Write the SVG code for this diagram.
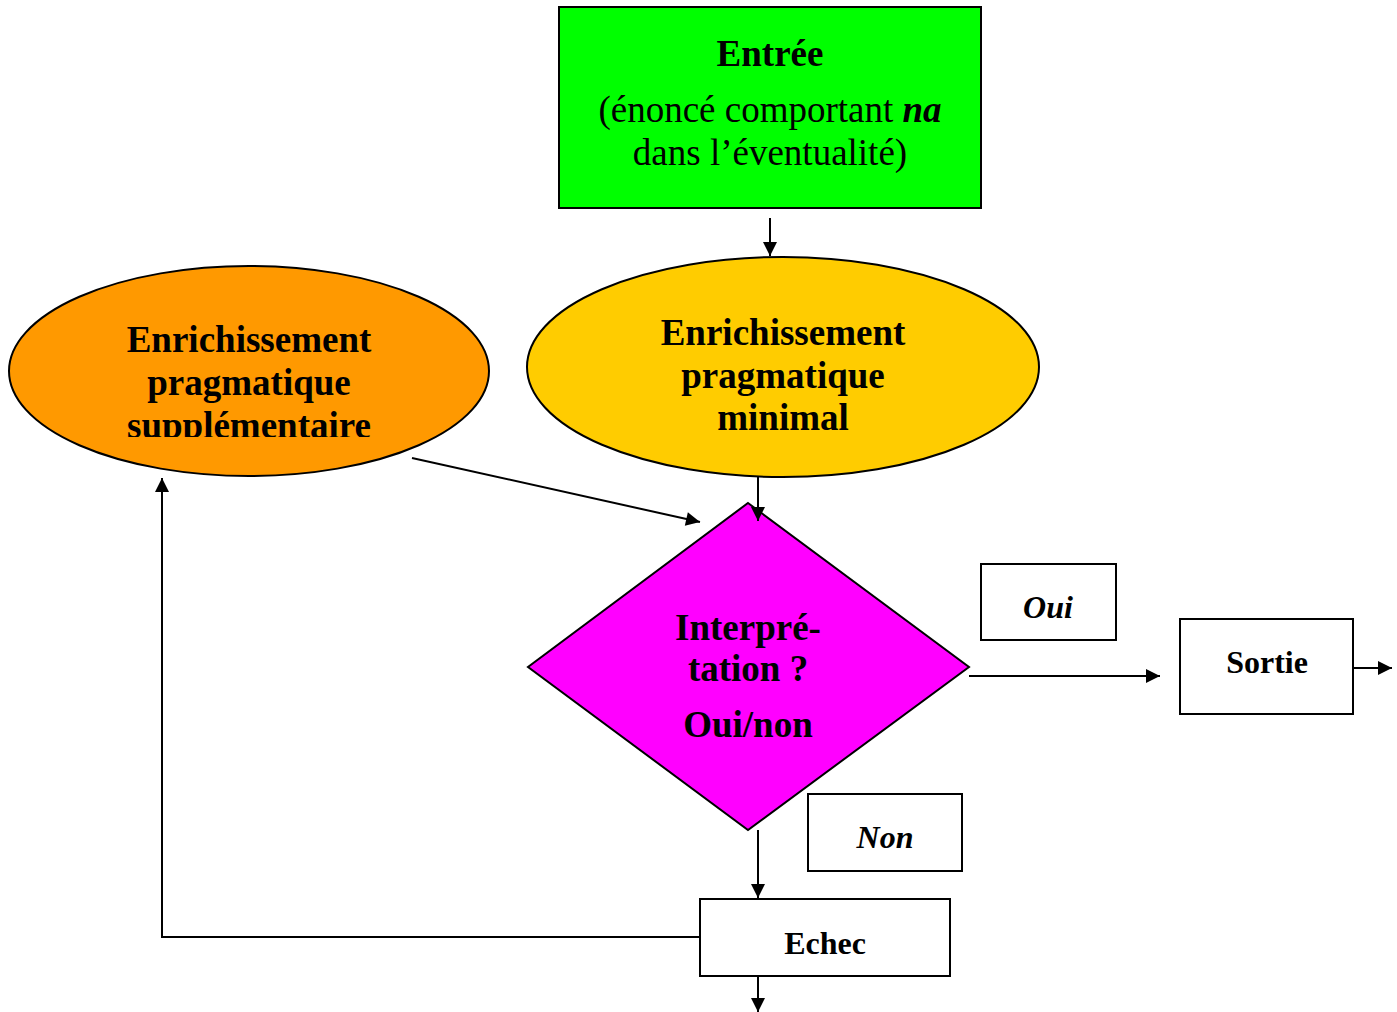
<svg xmlns="http://www.w3.org/2000/svg" width="1397" height="1012" viewBox="0 0 1397 1012">
<style>
text{font-family:"Liberation Serif","Times New Roman",serif;fill:#000;text-anchor:middle}
.b{font-weight:bold;font-size:37px}
.r{font-size:37px}
.bs{font-weight:bold;font-size:32px}
.bi{font-weight:bold;font-style:italic;font-size:32px}
.s{stroke:#000;stroke-width:2}
.c{stroke:#000;stroke-width:2;fill:none}
</style>
<defs>
<marker id="ahb" viewBox="0 0 10 10" refX="10" refY="5" markerWidth="20" markerHeight="14" markerUnits="userSpaceOnUse" orient="auto"><path d="M0,0L10,5L0,10z" fill="#000"/></marker>
<clipPath id="cl"><rect x="0" y="260" width="500" height="177"/></clipPath>
</defs>
<g id="entree">
<rect class="s" x="559" y="7" width="422" height="201" fill="#00FF00"/>
<text class="b" x="770" y="66">Entrée</text>
<text class="r" x="770" y="122">(énoncé comportant <tspan font-weight="bold" font-style="italic">na</tspan></text>
<text class="r" x="770" y="165">dans l’éventualité)</text>
</g>
<g id="supplementaire">
<ellipse class="s" cx="249" cy="371" rx="240" ry="105" fill="#FF9900"/>
<g clip-path="url(#cl)">
<text class="b" x="249" y="352">Enrichissement</text>
<text class="b" x="249" y="395">pragmatique</text>
<text class="b" x="249" y="438">supplémentaire</text>
</g>
</g>
<g id="minimal">
<ellipse class="s" cx="783" cy="367" rx="256" ry="110" fill="#FFCC00"/>
<text class="b" x="783" y="345">Enrichissement</text>
<text class="b" x="783" y="388">pragmatique</text>
<text class="b" x="783" y="430">minimal</text>
</g>
<g id="interpretation">
<polygon class="s" points="748,503 969,667 748,830 528,667" fill="#FF00FF"/>
<text class="b" x="748" y="640">Interpré-</text>
<text class="b" x="748" y="681">tation ?</text>
<text class="b" x="748" y="737">Oui/non</text>
</g>
<g id="oui">
<rect class="s" x="981" y="564" width="135" height="76" fill="#fff"/>
<text class="bi" x="1048" y="618">Oui</text>
</g>
<g id="sortie">
<rect class="s" x="1180" y="619" width="173" height="95" fill="#fff"/>
<text class="bs" x="1267" y="673">Sortie</text>
</g>
<g id="non">
<rect class="s" x="808" y="794" width="154" height="77" fill="#fff"/>
<text class="bi" x="885" y="848">Non</text>
</g>
<g id="echec">
<rect class="s" x="700" y="899" width="250" height="77" fill="#fff"/>
<text class="bs" x="825" y="954">Echec</text>
</g>
<g id="connectors">
<line class="c" x1="770" y1="218" x2="770" y2="256" marker-end="url(#ahb)"/>
<line class="c" x1="758" y1="477" x2="758" y2="521" marker-end="url(#ahb)"/>
<line class="c" x1="412" y1="458" x2="700" y2="522" marker-end="url(#ahb)"/>
<line class="c" x1="969" y1="676" x2="1160" y2="676" marker-end="url(#ahb)"/>
<line class="c" x1="1353" y1="668" x2="1392" y2="668" marker-end="url(#ahb)"/>
<line class="c" x1="758" y1="830" x2="758" y2="898" marker-end="url(#ahb)"/>
<polyline class="c" points="700,937 162,937 162,478" marker-end="url(#ahb)"/>
<line class="c" x1="758" y1="976" x2="758" y2="1012" marker-end="url(#ahb)"/>
</g>
</svg>
